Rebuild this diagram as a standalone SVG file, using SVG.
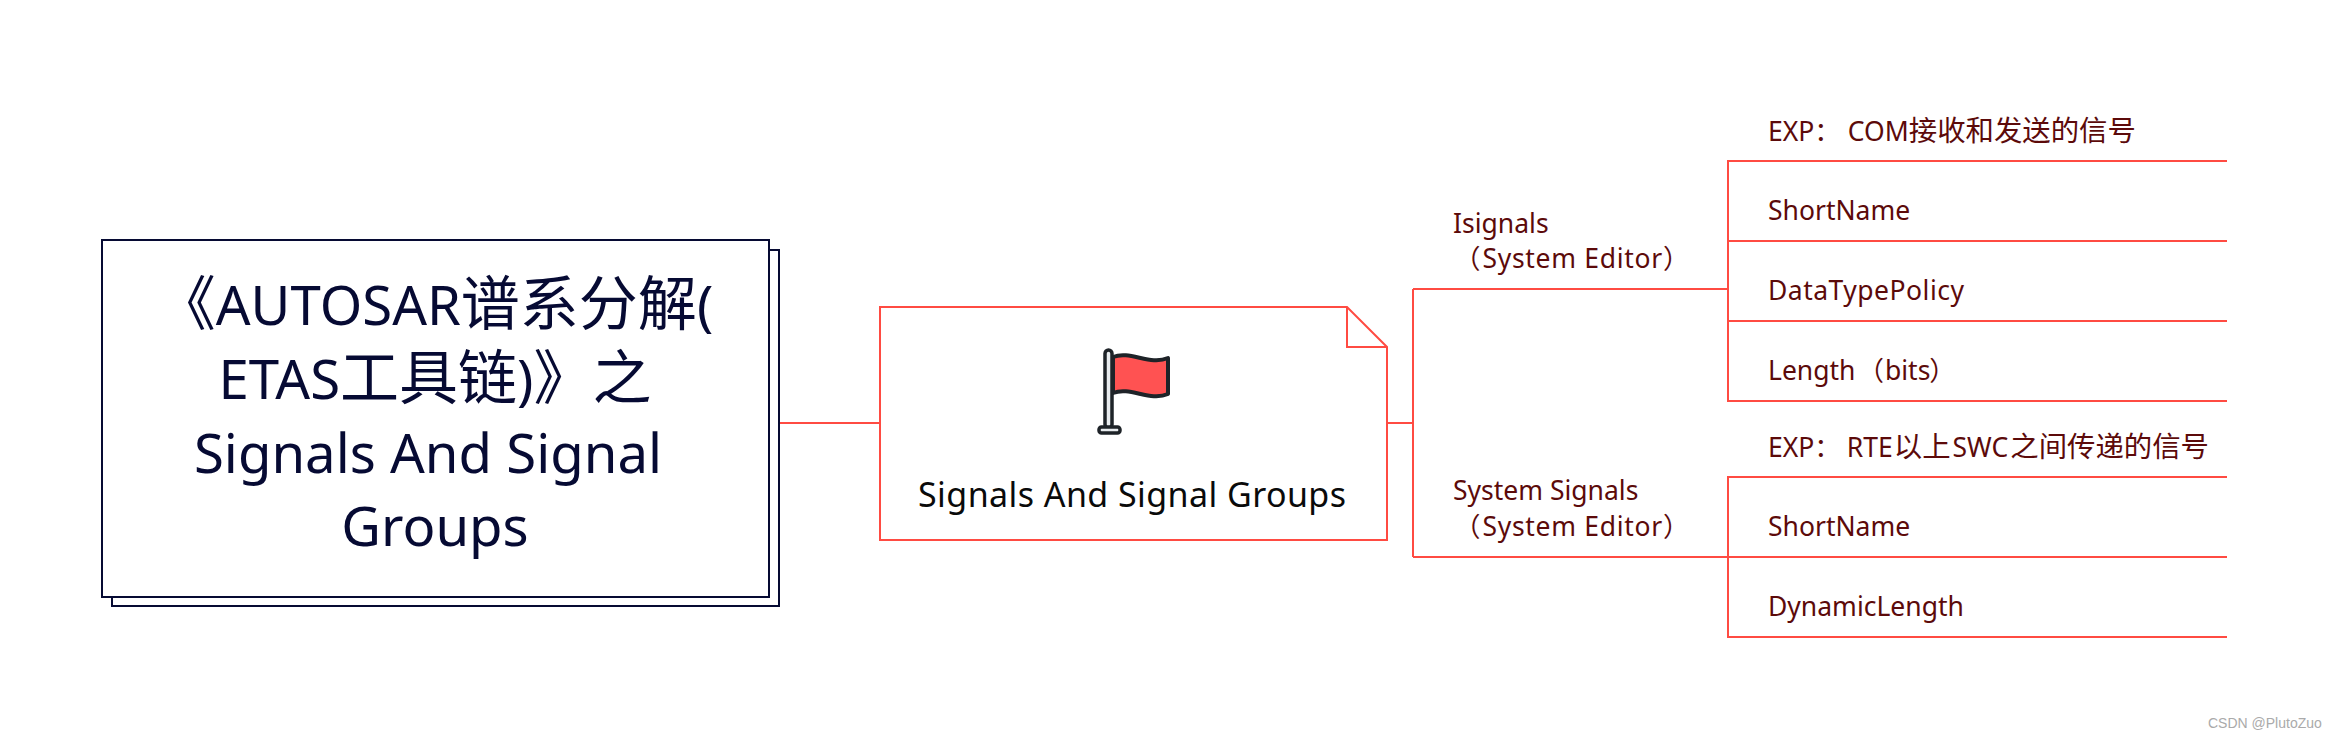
<svg xmlns="http://www.w3.org/2000/svg" width="2328" height="738" viewBox="0 0 2328 738">
<style>
text{font-family:"Noto Sans","Noto Sans CJK SC",sans-serif}
.ln{fill:none;stroke:#ff4b42;stroke-width:2}
.t{font-size:54.5px;fill:#060a33;text-anchor:middle}
.s{font-size:26.5px;fill:#5c0a0a}
.c{font-size:59px}
.d{font-size:28.4px}
.w{letter-spacing:.7px}
</style>
<rect width="2328" height="738" fill="#fff"/>
<g id="connectors">
<path class="ln" d="M780 423H880M1387 423H1413M1413 289V557M1413 289H1728M1413 557H1728"/>
<path class="ln" d="M2227 161H1728V401H2227M1728 241H2227M1728 321H2227"/>
<path class="ln" d="M2227 477H1728V637H2227M1728 557H2227"/>
</g>
<g id="root">
<rect x="112" y="250" width="667" height="356" fill="#fff" stroke="#060a33" stroke-width="2"/>
<rect x="102" y="240" width="667" height="357" fill="#fff" stroke="#060a33" stroke-width="2"/>
<text class="t" x="435" y="325"><tspan class="c">《</tspan>AUTOSAR<tspan class="c">谱系分解</tspan>(</text>
<text class="t" x="435" y="399">ETAS<tspan class="c">工具链</tspan>)<tspan class="c">》之</tspan></text>
<text class="t" x="428" y="473">Signals And Signal</text>
<text class="t" x="435" y="546">Groups</text>
</g>
<g id="center">
<path class="ln" fill="#fff" d="M880 307H1347L1387 347V540H880Z"/>
<path class="ln" d="M1347 307V347H1387"/>
<path d="M1113 357C1130 350 1150 366 1168 358V394C1150 402 1130 386 1113 393Z" fill="#ff5252" stroke="#1e2328" stroke-width="4" stroke-linejoin="round"/>
<rect x="1105" y="350" width="7" height="78" rx="3.5" fill="#e8ecef" stroke="#1e2328" stroke-width="3.5"/>
<rect x="1099" y="427" width="21" height="6" rx="2.5" fill="#e8ecef" stroke="#1e2328" stroke-width="3.5"/>
<text x="918" y="507" font-size="34" fill="#0a0a0a" textLength="428">Signals And Signal Groups</text>
</g>
<g id="isignals">
<text class="s" x="1453" y="233">Isignals</text>
<text class="s" x="1453" y="268"><tspan dx="1">（</tspan><tspan class="w" dx="2">System Editor</tspan>）</text>
</g>
<g id="system-signals">
<text class="s" x="1453" y="500">System Signals</text>
<text class="s" x="1453" y="536"><tspan dx="1">（</tspan><tspan class="w" dx="2">System Editor</tspan>）</text>
</g>
<g id="i1"><text class="s" x="1768" y="141">EXP：<tspan dx="7">COM</tspan><tspan class="d">接收和发送的信号</tspan></text></g>
<g id="i2"><text class="s" x="1768" y="220">ShortName</text></g>
<g id="i3"><text class="s" x="1768" y="300" textLength="196">DataTypePolicy</text></g>
<g id="i4"><text class="s" x="1768" y="380">Length<tspan dx="2">（</tspan><tspan dx="1">bits</tspan><tspan dx="-1">）</tspan></text></g>
<g id="s1"><text class="s" x="1768" y="457">EXP：<tspan dx="6">RTE</tspan><tspan class="d" dx="1">以上</tspan><tspan dx="2">SWC</tspan><tspan class="d" dx="2">之间传递的信号</tspan></text></g>
<g id="s2"><text class="s" x="1768" y="536">ShortName</text></g>
<g id="s3"><text class="s" x="1768" y="616">DynamicLength</text></g>
<text x="2208" y="728" font-size="14" fill="#aaa" style="font-family:'Liberation Sans',sans-serif">CSDN @PlutoZuo</text>
</svg>
